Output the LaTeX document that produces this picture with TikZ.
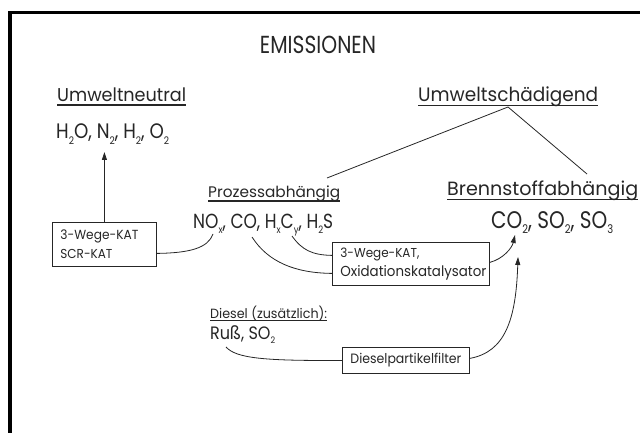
\documentclass[tikz,border=0pt]{standalone}
\usepackage{fontspec}
\setmainfont{Poppins}
\usetikzlibrary{arrows.meta}
\newcommand{\fitw}[3][1]{\resizebox{#2}{!}{\scalebox{1}[#1]{#3}}}
\newcommand{\sbs}[1]{\raisebox{-0.45ex}{\scalebox{0.5}{#1}}}
\definecolor{ink}{rgb}{0.15,0.15,0.15}
\begin{document}
\begin{tikzpicture}[x=1pt,y=-1pt,
  txt/.style={inner sep=0pt, anchor=base west, text=ink},
  box/.style={draw=ink, line width=0.8pt, inner sep=0pt, text=ink, anchor=north west},
  con/.style={draw=ink, line width=0.8pt},
  arr/.style={con, -{Triangle[length=8pt,width=5pt]}},
  ul/.style={draw=ink, line width=1.1pt}]
\useasboundingbox (0,0) rectangle (640,433);
% frame
\fill[black] (8,11.5) rectangle (640,14);
\fill[black] (8,11.5) rectangle (11.5,433);
% texts
\node[txt, anchor=base] (emi) at (318,54) {\fitw[1.22]{116pt}{EMISSIONEN}};
\node[txt] (neu) at (57,102) {\fitw[1.05]{129pt}{Umweltneutral}};
\node[txt] (h2o) at (56,139) {\fitw[1.15]{113pt}{H\sbs{2}O, N\sbs{2}, H\sbs{2}, O\sbs{2}}};
\node[txt] (schad) at (418,102) {\fitw[1.05]{180pt}{Umweltschädigend}};
\node[txt] (proz) at (208,198) {\fitw{132pt}{Prozessabhängig}};
\node[txt] (brenn) at (447,196) {\fitw{191pt}{Brennstoffabhängig}};
\node[txt] (nox) at (193,228) {\fitw[1.2]{140pt}{NO\sbs{x}, CO, H\sbs{x}C\sbs{y}, H\sbs{2}S}};
\node[txt] (co2) at (491,228) {\fitw[1.2]{122pt}{CO\sbs{2}, SO\sbs{2}, SO\sbs{3}}};
\node[txt] (diesel) at (210,318) {\fitw[1.05]{117pt}{Diesel (zusätzlich):}};
\node[txt] (russ) at (210,339) {\fitw[1.12]{65pt}{Ruß, SO\sbs{2}}};
% underlines
\draw[ul] ([yshift=-3pt]neu.base west) -- ([yshift=-3pt]neu.base east);
\draw[ul] ([yshift=-3.5pt]schad.base west) -- ([yshift=-3.5pt]schad.base east);
\draw[ul] ([yshift=-3pt]proz.base west) -- ([yshift=-3pt]proz.base east);
\draw[ul] ([yshift=-3.5pt]brenn.base west) -- ([yshift=-3.5pt]brenn.base east);
\draw[draw=ink, line width=0.8pt] ([yshift=-2pt]diesel.base west) -- ([yshift=-2pt]diesel.base east);
% boxes
\node[box, minimum width=104pt, minimum height=44pt, text width=88pt, align=left,
  font=\fontsize{12.5}{19}\selectfont] (kat1) at (52,222)
  {\fitw[1.08]{78pt}{3-Wege-KAT}\\\fitw[1.08]{52pt}{SCR-KAT}};
\node[box, minimum width=157pt, minimum height=43pt, text width=141pt, align=left,
  font=\fontsize{12.5}{19}\selectfont] (kat2) at (332,242)
  {\fitw[1.08]{79pt}{3-Wege-KAT,}\\\fitw[1.08]{146pt}{Oxidationskatalysator}};
\node[box, minimum width=127pt, minimum height=26pt, align=center,
  font=\fontsize{12.5}{15}\selectfont] (dpf) at (342,347) {\fitw[1.08]{111pt}{Dieselpartikelfilter}};
% free ends
\coordinate (apexL) at (327,178);
\coordinate (apexR) at (587,174);
\coordinate (noxb) at (213,234);
\coordinate (cob) at (252,237);
\coordinate (hcb) at (292,236);
\coordinate (co2a) at (515,235);
\coordinate (co2b) at (518,257);
\coordinate (russb) at (226,347);
% connectors
\draw[con] ([xshift=90pt,yshift=-5pt]schad.base west) -- (apexL);
\draw[con] ([xshift=90pt,yshift=-5pt]schad.base west) -- (apexR);
\draw[arr] (kat1.north) -- ([yshift=-13pt]kat1.north |- h2o.base);
\draw[con] ([yshift=-9pt]kat1.east) .. controls (190,253) and (208,248) .. (noxb);
\draw[con] (hcb) .. controls (302,250) and (312,255) .. ([yshift=8.5pt]kat2.west);
\draw[con] (cob) .. controls (268,262) and (295,273) .. ([yshift=-9.5pt]kat2.west);
\draw[arr] ([yshift=1.5pt]kat2.east) .. controls (503,259) and (512,248) .. (co2a);
\draw[con] (russb) .. controls (236,358) and (262,361) .. (dpf.west);
\draw[arr] ([yshift=2pt]dpf.east) .. controls (505,352) and (516,320) .. (co2b);
\end{tikzpicture}
\end{document}
